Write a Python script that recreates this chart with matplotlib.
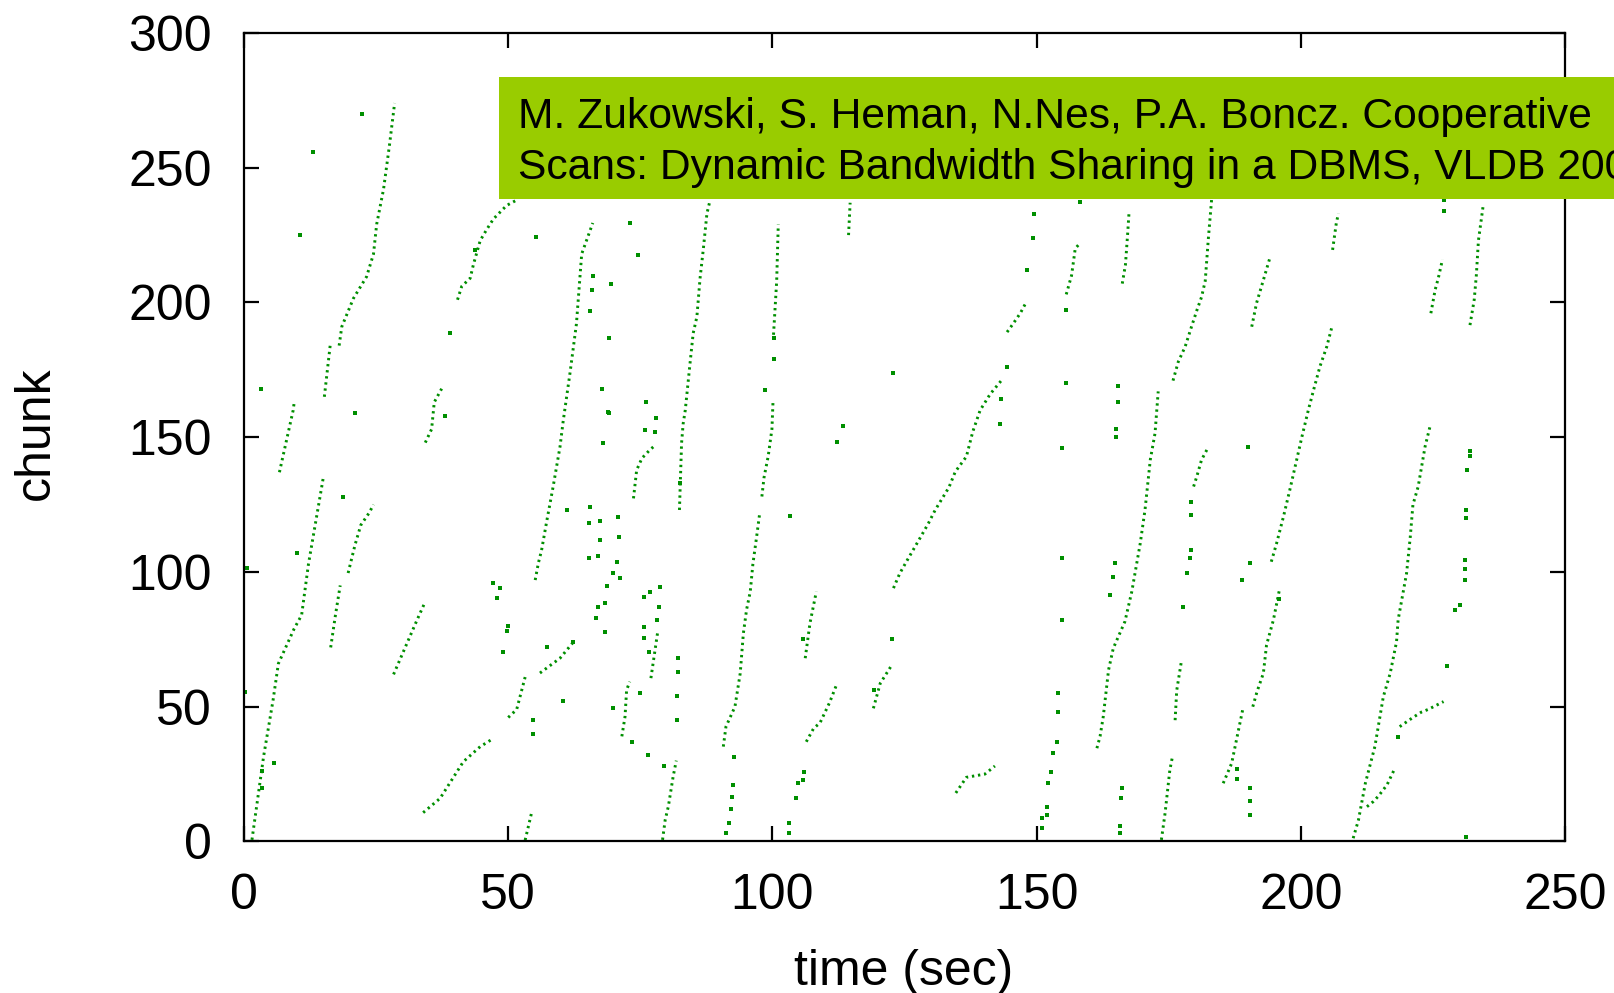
import matplotlib
matplotlib.use('Agg')
import matplotlib.pyplot as plt
from matplotlib.patches import Rectangle

plt.rcParams['font.family'] = ['Liberation Sans', 'DejaVu Sans']

# streaks of chunk reads: time (sec) and chunk number, one list per scan
streak_times = [
    [1.5, 3.7, 5.5, 6.5, 9.5, 10.9, 12.2, 15.0],
    [6.7, 9.3, 9.5],
    [15.2, 16.3],
    [18.0, 18.5, 20.7, 23.2, 24.5, 25.1, 26.4, 27.5, 28.5],
    [19.7, 21.0, 22.1, 23.7, 24.5],
    [16.4, 17.3, 18.2],
    [28.3, 30.5, 32.7, 34.3],
    [34.3, 35.5, 36.0, 37.4],
    [40.4, 41.2, 42.8, 43.4, 44.7, 45.9, 47.2, 49.7, 51.6],
    [55.1, 55.7, 56.3, 57.3, 58.5, 59.8, 60.4, 61.7, 62.9, 63.9, 66.0],
    [53.2, 54.4],
    [50.0, 51.6, 53.2],
    [56.0, 59.8, 62.5],
    [33.9, 37.1, 41.5, 44.7, 47.0],
    [82.4, 82.8, 83.1, 83.5, 84.4, 85.0, 85.7, 86.3, 86.9, 87.6, 88.2],
    [98.0, 98.4, 99.2, 99.9, 100.1],
    [100.2, 100.8, 101.1],
    [90.7, 91.2, 92.9, 93.9, 94.5, 95.1, 95.8, 96.3, 97.0, 97.6],
    [79.2, 79.7, 80.3, 81.2, 81.8],
    [77.0, 77.5, 78.3],
    [71.5, 72.1, 72.4, 73.0],
    [73.7, 74.3, 75.3, 76.8, 77.8],
    [106.2, 107.1, 108.3],
    [106.4, 107.8, 109.0, 110.8, 112.1],
    [122.9, 124.1, 125.4, 127.9, 129.5, 130.8, 133.4, 134.6, 136.7, 137.9, 139.3, 141.2, 143.3],
    [119.1, 120.4, 122.6],
    [144.4, 145.5, 146.9, 148.0],
    [155.6, 156.6, 157.3, 158.2],
    [166.2, 166.8, 167.2, 167.5],
    [175.8, 176.8, 178.1, 179.3, 180.3, 181.2, 181.9, 182.5, 183.1],
    [161.4, 162.0, 162.6, 163.6, 164.5, 166.7, 168.0, 169.6, 170.5, 171.5, 172.4, 173.0],
    [173.6, 174.3, 175.2, 175.7],
    [176.2, 176.5, 177.4],
    [179.7, 180.3, 181.2, 182.2],
    [185.3, 186.9, 188.2, 189.0],
    [190.9, 191.7, 192.9, 193.5, 194.8, 195.9],
    [194.4, 195.4, 196.7, 197.9, 199.2, 200.2, 201.4, 202.4, 203.6, 204.9, 205.8],
    [190.7, 191.6, 192.9, 194.2],
    [206.0, 206.7, 207.1],
    [209.9, 210.9, 212.2, 214.0, 215.6, 216.9, 218.1, 218.4, 220.0, 220.7, 221.2, 222.2, 223.5, 224.5],
    [218.7, 221.2, 222.8, 224.1, 225.4, 227.0],
    [212.5, 213.7, 214.7, 216.3, 217.8],
    [224.6, 225.4, 226.0, 226.8],
    [232.0, 232.8, 233.2, 233.6, 234.5],
    [134.7, 136.7, 140.2, 142.1],
    [114.4, 114.7],
]
streak_chunks = [
    [0.6, 31.5, 52.5, 66, 79, 84, 103, 135],
    [137, 160, 163],
    [165, 184],
    [184, 191, 201.5, 209.6, 218, 229, 242, 258, 274],
    [99.6, 110, 117.4, 122, 125],
    [72, 84, 95],
    [62, 72, 82, 89],
    [148, 153, 163, 168],
    [201, 206, 209, 214, 223, 227, 231, 236, 238],
    [97, 103.3, 108, 119, 131.7, 146.5, 156, 174, 192, 218, 229.5],
    [0.5, 10.5],
    [46, 49, 61],
    [62.5, 68, 74.4],
    [10.7, 16, 29.6, 35.2, 38],
    [123, 147.8, 155, 160, 177.4, 188.6, 194.7, 209, 219.5, 233, 238],
    [128, 135, 143, 153, 163],
    [188, 208, 229],
    [35.2, 42.6, 50, 62.4, 77.3, 86, 92.7, 103, 113, 122],
    [0.6, 8, 13, 24, 30],
    [60.6, 67.3, 78],
    [39, 46.3, 56.2, 59.3],
    [127.3, 137.8, 142.2, 145.3, 147],
    [68, 81, 92.7],
    [37, 42, 44, 51.5, 58],
    [94, 99.5, 104, 112.5, 118, 123, 131.4, 137.2, 142.8, 152, 160, 166, 171],
    [49.4, 58.7, 65.5],
    [189, 192, 196, 200],
    [203, 210, 220, 222],
    [207, 214, 225, 234],
    [171, 178, 183.6, 191, 197, 202, 208, 224, 238],
    [34.6, 39, 46.3, 63.6, 71.7, 81.6, 92.7, 110.6, 123, 141.6, 151.5, 167],
    [0.6, 10.5, 26.5, 31.5],
    [45, 56, 67],
    [131.7, 135.4, 141.6, 145.3],
    [21.6, 29, 41.4, 49],
    [50, 55.6, 62.4, 72.9, 82.2, 93],
    [103.8, 110.6, 120.5, 130.4, 141.6, 150.2, 160, 167.5, 176.2, 183.6, 190.4],
    [191, 199.7, 208.3, 217],
    [219.5, 229.4, 233],
    [1.2, 8, 21.6, 35.2, 53.7, 62.4, 74.1, 82.2, 99.5, 113, 124.9, 131.7, 146.5, 154.5],
    [42.6, 46, 48, 49, 50.3, 51.9],
    [12.9, 14.8, 16.9, 21, 27.2],
    [196, 204.6, 209, 216],
    [191.6, 201, 210, 223, 236],
    [18, 23.8, 25, 28],
    [225, 237],
]

# single scattered reads
dot_times = [3.3, 10.6, 13.0, 22.3, 21.0, 0.5, 0.2, 10.0, 18.7, 3.4, 3.4, 5.7, 38.0, 39.0,
             43.7, 55.2, 47.2, 48.4, 47.8, 50.0, 49.7, 49.0, 54.7, 54.7, 60.4, 57.3, 61.2,
             62.3, 65.8, 65.5, 66.0, 67.8, 69.0, 69.5, 73.0, 74.6, 68.9, 76.0, 78.0, 77.8,
             75.9, 67.9, 69.1, 82.5, 70.8, 67.4, 67.4, 70.9, 67.0, 65.2, 70.5, 69.9, 71.2,
             68.7, 68.3, 67.0, 66.7, 65.4, 65.2, 75.6, 76.8, 78.7, 78.6, 78.2, 75.6, 75.6,
             76.6, 69.9, 74.9, 73.4, 76.5, 79.5, 82.2, 82.2, 82.0, 81.9, 68.3, 92.7, 92.6,
             92.3, 92.1, 91.8, 91.3, 105.9, 105.7, 104.8, 104.5, 103.2, 103.2, 105.7, 103.3,
             113.4, 112.2, 100.2, 100.3, 98.5, 122.8, 122.6, 119.2, 149.5, 149.3, 148.1,
             144.4, 143.3, 143.0, 158.2, 155.6, 155.6, 165.3, 165.3, 165.0, 165.0, 154.7,
             154.7, 154.7, 154.0, 154.0, 153.9, 153.0, 152.8, 152.2, 152.0, 151.9, 151.1,
             151.0, 164.8, 164.5, 163.9, 166.1, 165.9, 165.8, 165.7, 179.3, 179.3, 179.2,
             179.0, 178.4, 177.7, 187.9, 187.9, 190.4, 190.4, 190.4, 190.0, 190.4, 188.8,
             195.9, 218.4, 227.7, 231.2, 232.0, 232.0, 231.4, 231.3, 231.3, 231.0, 231.0,
             231.0, 230.1, 229.2, 227.1, 227.1]
dot_chunks = [168, 225, 256, 270, 159, 101.5, 55.6, 107, 128, 20, 26, 29, 158, 188.7,
              219.5, 224.4, 95.8, 94, 90.2, 80, 78, 70.4, 40, 45, 52, 72, 123,
              74, 204.6, 197, 210, 168, 187, 207, 229.5, 217.6, 159.4, 163, 157, 152,
              152.7, 148, 159, 133, 120.5, 112, 119, 113, 106, 105, 103.8, 99.5, 97.8,
              94.8, 88.4, 87, 82.8, 124, 118, 90.8, 92.7, 94.5, 87, 82, 75.4, 79.7,
              70.3, 49.4, 55, 37, 32, 28, 63, 68, 54, 45, 77.9, 31.5, 21,
              16.6, 12, 6.8, 3, 25.9, 22.8, 21.8, 16, 3, 7, 75, 120.8,
              154.3, 148.1, 187, 179, 167.5, 174, 75, 56.2, 233, 224, 212,
              176, 164, 155, 237.4, 197.2, 170, 163, 169, 150, 153, 146,
              105, 82, 55, 48, 37, 32.7, 25.9, 21.8, 12.9, 9.8, 8.6,
              4.9, 103.3, 98.3, 91.5, 19.7, 16, 5.8, 3, 121, 126, 108,
              105, 99.5, 87, 27, 23, 10, 15, 20, 146.4, 103.3, 97,
              90, 38.8, 65, 1.8, 143, 145, 138, 120, 123, 97, 101,
              104.5, 87.7, 86, 234, 238]

x_ticks = [0, 50, 100, 150, 200, 250]
y_ticks = [0, 50, 100, 150, 200, 250, 300]
note_lines = ['M. Zukowski, S. Heman, N.Nes, P.A. Boncz. Cooperative',
              'Scans: Dynamic Bandwidth Sharing in a DBMS, VLDB 2007']

green = '#008f00'

fig = plt.figure(figsize=(16.15, 9.93), dpi=100)
ax = fig.add_axes([0.1511, 0.1526, 0.818, 0.8142])

for ts, cs in zip(streak_times, streak_chunks):
    ax.plot(ts, cs, color=green, lw=2.1, linestyle=(0, (0.8, 1.3)), solid_capstyle='butt')
ax.scatter(dot_times, dot_chunks, s=6, marker='s', color=green, linewidths=0)

ax.set_xlim(0, 250)
ax.set_ylim(0, 300)
ax.set_xticks(x_ticks)
ax.set_yticks(y_ticks)
ax.tick_params(direction='in', length=11, width=1.6, top=True, right=True,
               labelsize=36, pad=23)
for sp in ax.spines.values():
    sp.set_linewidth(1.6)

ax.set_xlabel('time (sec)', fontsize=36, va='center')
ax.xaxis.set_label_coords(0.499, -0.162)
ax.set_ylabel('chunk', fontsize=36, va='center')
ax.yaxis.set_label_coords(-0.1575, 0.505)

# citation box, runs off the right edge of the figure (as in the source slide)
fig.add_artist(Rectangle((0.3087, 0.7996), 0.7, 0.1229, transform=fig.transFigure,
                         facecolor='#99cc00', edgecolor='none', zorder=5))
fig.text(0.3207, 1 - 128 / 993, note_lines[0], fontsize=30.7, va='baseline', zorder=6)
fig.text(0.3207, 1 - 179 / 993, note_lines[1], fontsize=30.7, va='baseline', zorder=6)

fig.savefig('out.png', dpi=100)
